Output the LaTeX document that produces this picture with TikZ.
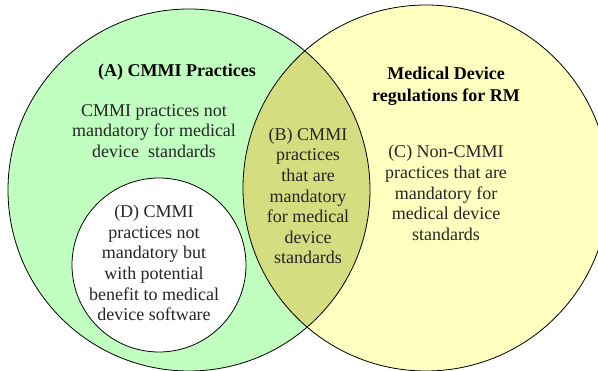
\documentclass[tikz,border=0pt]{standalone}
\usepackage{fontspec}
\setmainfont{Liberation Serif}
\usepackage{xcolor}
\definecolor{cmmigreen}{RGB}{192,255,192}
\definecolor{regyellow}{RGB}{255,255,192}
\definecolor{overlap}{RGB}{212,222,128}

\begin{document}
\begin{tikzpicture}
  [x=1pt,y=-1pt]
      \tikzstyle{set_style} = [draw=black, line width=0.8pt]
      \tikzstyle{text_style} = [align=center, inner sep=0, text=black!85, font=\fontsize{18}{20.6}\selectfont]
      \tikzstyle{title_style} = [align=center, inner sep=0, font=\fontsize{18}{21.5}\selectfont\bfseries]
  \useasboundingbox (0,0) rectangle (598,371);
  \coordinate (cmmi) at (189,190);
  \coordinate (reg) at (426,188);
  \coordinate (opt) at (159,265);
  % the two sets and their overlap
  \fill[cmmigreen] (cmmi) circle (181pt);
  \fill[regyellow] (reg) circle (183pt);
  \begin{scope}
    \clip (cmmi) circle (181pt);
    \fill[overlap] (reg) circle (183pt);
  \end{scope}
  \fill[white] (opt) circle (87pt);
  \draw[set_style] (cmmi) circle (181pt);
  \draw[set_style] (reg) circle (183pt);
  \draw[set_style] (opt) circle (87pt);
  % labels
  \node[title_style] (a_title) at (177,72) {(A) CMMI Practices};
  \node[text_style] (a_text) at (154,131) {CMMI practices not\\mandatory for medical\\device\ \ standards};
  \node[title_style] (reg_title) at (446,86) {Medical Device\\regulations for RM};
  \node[text_style] (b_text) at (308,196) {(B) CMMI\\practices\\that are\\mandatory\\for medical\\device\\standards};
  \node[text_style] (c_text) at (446,193) {(C) Non-CMMI\\practices that are\\mandatory for\\medical device\\standards};
  \node[text_style] (d_text) at (154,263) {(D) CMMI\\practices not\\mandatory but\\with potential\\benefit to medical\\device software};
\end{tikzpicture}
\end{document}
